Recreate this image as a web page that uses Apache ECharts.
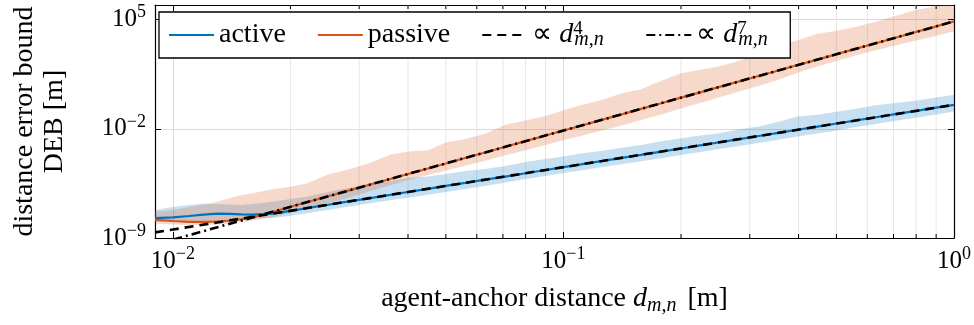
<!DOCTYPE html>
<html><head><meta charset="utf-8">
<script src="https://cdn.jsdelivr.net/npm/echarts@6/dist/echarts.min.js"></script>
<style>html,body{margin:0;padding:0;background:#fff}#c{width:974px;height:325px}</style>
</head><body><div id="c"></div>
<script>
// agent-anchor distance d_{m,n} [m]
const dist = [0.009, 0.01, 0.011, 0.012, 0.013, 0.014, 0.015, 0.016, 0.018, 0.02, 0.022, 0.025, 0.028, 0.032, 0.036, 0.04, 0.045, 0.05, 0.056, 0.063, 0.071, 0.08, 0.09, 0.1, 0.112, 0.126, 0.141, 0.158, 0.178, 0.2, 0.224, 0.251, 0.282, 0.316, 0.355, 0.398, 0.447, 0.501, 0.562, 0.631, 0.708, 0.794, 0.891, 1.0];
// log10 of DEB [m]
const activeLog10 = [-7.73, -7.68, -7.59, -7.50, -7.44, -7.45, -7.48, -7.50, -7.44, -7.26, -7.09, -6.87, -6.67, -6.44, -6.24, -6.05, -5.85, -5.66, -5.47, -5.26, -5.06, -4.85, -4.64, -4.46, -4.26, -4.06, -3.86, -3.67, -3.46, -3.26, -3.06, -2.86, -2.66, -2.46, -2.26, -2.06, -1.86, -1.66, -1.46, -1.26, -1.06, -0.86, -0.66, -0.46];
const activeUpperLog10 = [-7.20, -7.01, -6.88, -6.78, -6.82, -6.85, -6.88, -6.82, -6.67, -6.50, -6.35, -6.05, -5.79, -5.53, -5.34, -5.15, -5.06, -4.89, -4.70, -4.57, -4.38, -4.12, -3.93, -3.77, -3.56, -3.41, -3.22, -3.03, -2.80, -2.60, -2.42, -2.28, -2.03, -1.85, -1.55, -1.21, -1.10, -0.91, -0.72, -0.49, -0.35, -0.20, -0.01, 0.18];
const activeLowerLog10 = [-7.95, -7.94, -7.91, -7.88, -7.85, -7.82, -7.79, -7.76, -7.72, -7.58, -7.42, -7.20, -7.00, -6.77, -6.58, -6.42, -6.23, -6.05, -5.86, -5.66, -5.44, -5.22, -5.03, -4.84, -4.65, -4.45, -4.27, -4.08, -3.88, -3.68, -3.48, -3.29, -3.10, -2.91, -2.70, -2.50, -2.30, -2.10, -1.89, -1.69, -1.49, -1.30, -1.09, -0.89];
const passiveLog10 = [-7.84, -7.91, -7.96, -7.97, -7.94, -7.88, -7.79, -7.68, -7.33, -7.00, -6.71, -6.32, -5.98, -5.57, -5.22, -4.90, -4.54, -4.22, -3.87, -3.52, -3.15, -2.79, -2.43, -2.11, -1.77, -1.41, -1.07, -0.72, -0.36, 0.00, 0.34, 0.69, 1.04, 1.39, 1.74, 2.09, 2.44, 2.79, 3.14, 3.49, 3.84, 4.19, 4.54, 4.89];
const passiveUpperLog10 = [-7.31, -7.20, -7.01, -6.88, -6.67, -6.43, -6.24, -6.13, -5.87, -5.71, -5.50, -4.92, -4.63, -4.18, -3.67, -3.45, -3.38, -2.88, -2.66, -2.32, -1.74, -1.47, -1.17, -0.81, -0.46, -0.14, 0.28, 0.54, 1.08, 1.56, 1.79, 2.01, 2.37, 2.82, 3.33, 3.68, 4.10, 4.29, 4.55, 4.87, 5.23, 5.61, 5.84, 6.03];
const passiveLowerLog10 = [-8.07, -8.13, -8.17, -8.17, -8.13, -8.07, -7.97, -7.88, -7.67, -7.40, -7.13, -6.77, -6.43, -6.00, -5.62, -5.28, -4.96, -4.67, -4.37, -4.04, -3.70, -3.37, -3.03, -2.73, -2.42, -2.11, -1.79, -1.44, -1.08, -0.70, -0.34, 0.03, 0.39, 0.74, 1.14, 1.59, 1.99, 2.37, 2.72, 3.04, 3.34, 3.64, 3.94, 4.26];
// reference power-law lines (end points)
const refDist = [0.009, 1.0];
const refD4Log10 = [-8.64, -0.46];
const refD7Log10 = [-9.43, 4.89];
// axis ticks
const xMinorTicks = [0.02, 0.03, 0.04, 0.05, 0.06, 0.07, 0.08, 0.09, 0.2, 0.3, 0.4, 0.5, 0.6, 0.7, 0.8, 0.9];
const legendNames = ['active', 'passive', 'd4', 'd7'];

const FONT = 'Liberation Serif';
const X_MIN = 0.009, X_MAX = 1, Y_MIN = 1e-9, Y_MAX = 8.7e5;
const BLUE = '#0072BD', ORANGE = '#D95319';

const pairs = (xs, ys) => xs.map((x, i) => [x, Math.pow(10, ys[i])]);
const supLabel = v => {
  const e = Math.round(Math.log10(v));
  return '{b|10}{s|' + (e < 0 ? '\u2212' + (-e) : String(e)) + '}';
};
const labelRich = {
  b: {fontFamily: FONT, fontSize: 25, lineHeight: 32, color: '#000'},
  s: {fontFamily: FONT, fontSize: 18, lineHeight: 18, verticalAlign: 'top', color: '#000'}
};

function bandSeries(upper, lower, fill) {
  return {
    type: 'custom', silent: true, z: 2,
    data: [[0.1, 1e-3]],
    renderItem(params, api) {
      const pts = [];
      for (let i = 0; i < dist.length; i++) pts.push(api.coord([dist[i], Math.pow(10, upper[i])]));
      for (let i = dist.length - 1; i >= 0; i--) pts.push(api.coord([dist[i], Math.pow(10, lower[i])]));
      const cs = params.coordSys;
      return {
        type: 'polygon', shape: {points: pts}, style: {fill: fill},
        clipPath: {type: 'rect', shape: {x: cs.x, y: cs.y, width: cs.width, height: cs.height}}
      };
    }
  };
}

const chart = echarts.init(document.getElementById('c'), null, {renderer: 'canvas'});
const axisLine = {show: true, onZero: false, lineStyle: {color: '#000', width: 1.2}};
const tickStyle = {color: '#000', width: 1};
const subStyle = {fontFamily: FONT, fontStyle: 'italic', fontSize: 20, lineHeight: 20, verticalAlign: 'bottom', align: 'left', color: '#000', width: 40};

chart.setOption({
  animation: false,
  backgroundColor: '#fff',
  grid: {left: 155, right: 19, top: 5, bottom: 87, containLabel: false},
  legend: {
    data: legendNames, left: 159, top: 12, orient: 'horizontal',
    itemWidth: 45, itemHeight: 14, itemGap: 31, padding: [8, 12, 8, 9],
    borderColor: '#000', borderWidth: 1.3, backgroundColor: '#fff', borderRadius: 0,
    itemStyle: {opacity: 0},
    formatter: n => n === 'd4' ? '\u221D {i|d}{sup|4}{sub|m,n}' : (n === 'd7' ? '\u221D {i|d}{sup|7}{sub|m,n}' : n),
    textStyle: {
      fontFamily: FONT, fontSize: 28, color: '#000', lineHeight: 30,
      rich: {
        i: {fontFamily: FONT, fontStyle: 'italic', fontSize: 28, lineHeight: 30, color: '#000'},
        sup: {fontFamily: FONT, fontSize: 19, lineHeight: 19, verticalAlign: 'top', align: 'left', color: '#000', width: 1},
        sub: subStyle
      }
    }
  },
  xAxis: [{
    type: 'log', logBase: 10, min: X_MIN, max: X_MAX, position: 'bottom',
    axisLine: axisLine,
    axisTick: {show: true, inside: true, length: 6, lineStyle: tickStyle},
    axisLabel: {showMinLabel: false, margin: 7, formatter: supLabel, rich: labelRich},
    splitLine: {show: true, lineStyle: {color: '#dadada', width: 1}},
    name: 'agent-anchor distance {i|d}{xsub|m,n} [m]', nameLocation: 'middle', nameGap: 44,
    nameTextStyle: {
      fontFamily: FONT, fontSize: 28, color: '#000', lineHeight: 34,
      rich: {
        i: {fontFamily: FONT, fontStyle: 'italic', fontSize: 28, lineHeight: 34, color: '#000'},
        xsub: {fontFamily: FONT, fontStyle: 'italic', fontSize: 20, lineHeight: 20, verticalAlign: 'bottom', color: '#000', padding: [0, 4, 0, 0]}
      }
    }
  }, {
    type: 'log', logBase: 10, min: X_MIN, max: X_MAX, position: 'top',
    axisLine: axisLine,
    axisTick: {show: true, inside: true, length: 6, lineStyle: tickStyle},
    axisLabel: {show: false}, splitLine: {show: false}
  }],
  yAxis: [{
    type: 'log', logBase: 10, min: Y_MIN, max: Y_MAX, interval: 7, position: 'left',
    axisLine: axisLine,
    axisTick: {show: true, inside: true, length: 6, lineStyle: tickStyle},
    axisLabel: {showMaxLabel: false, margin: 9, formatter: supLabel, rich: labelRich},
    splitLine: {show: true, lineStyle: {color: '#dadada', width: 1}},
    name: 'distance error bound\nDEB [m]', nameLocation: 'middle', nameRotate: 90, nameGap: 85,
    nameTextStyle: {fontFamily: FONT, fontSize: 28, lineHeight: 30, color: '#000'}
  }, {
    type: 'log', logBase: 10, min: Y_MIN, max: Y_MAX, interval: 7, position: 'right',
    axisLine: axisLine,
    axisTick: {show: true, inside: true, length: 6, lineStyle: tickStyle},
    axisLabel: {show: false}, splitLine: {show: false}
  }],
  series: [
    {
      type: 'custom', silent: true, z: 1,
      data: xMinorTicks.map(v => [v, 1e-3]),
      renderItem(params, api) {
        const x = api.coord([api.value(0), 1e-3])[0];
        const cs = params.coordSys;
        return {type: 'line', shape: {x1: x, y1: cs.y, x2: x, y2: cs.y + cs.height}, style: {stroke: '#e6e6e6', lineWidth: 1}};
      }
    },
    Object.assign(bandSeries(activeUpperLog10, activeLowerLog10, 'rgba(0,114,189,0.22)'), {name: 'activeBand'}),
    Object.assign(bandSeries(passiveUpperLog10, passiveLowerLog10, 'rgba(217,83,25,0.22)'), {name: 'passiveBand'}),
    {
      name: 'active', type: 'line', data: pairs(dist, activeLog10), symbol: 'none', showSymbol: false,
      color: BLUE, lineStyle: {color: BLUE, width: 2.2}, z: 3
    },
    {
      name: 'passive', type: 'line', data: pairs(dist, passiveLog10), symbol: 'none', showSymbol: false,
      color: ORANGE, lineStyle: {color: ORANGE, width: 2.2}, z: 3
    },
    {
      name: 'd4', type: 'line', data: pairs(refDist, refD4Log10), symbol: 'none', showSymbol: false,
      color: '#000', lineStyle: {color: '#000', width: 2.6, type: [9, 6]}, z: 4
    },
    {
      name: 'd7', type: 'line', data: pairs(refDist, refD7Log10), symbol: 'none', showSymbol: false,
      color: '#000', lineStyle: {color: '#000', width: 2.6, type: [9, 4, 2, 4]}, z: 4
    },
    {
      type: 'custom', silent: true, z: 5,
      data: xMinorTicks.map(v => [v, 1e-3]),
      renderItem(params, api) {
        const x = api.coord([api.value(0), 1e-3])[0];
        const cs = params.coordSys;
        return {type: 'group', children: [
          {type: 'line', shape: {x1: x, y1: cs.y + cs.height, x2: x, y2: cs.y + cs.height - 4}, style: {stroke: '#000', lineWidth: 1}},
          {type: 'line', shape: {x1: x, y1: cs.y, x2: x, y2: cs.y + 4}, style: {stroke: '#000', lineWidth: 1}}
        ]};
      }
    }
  ]
});
</script></body></html>
